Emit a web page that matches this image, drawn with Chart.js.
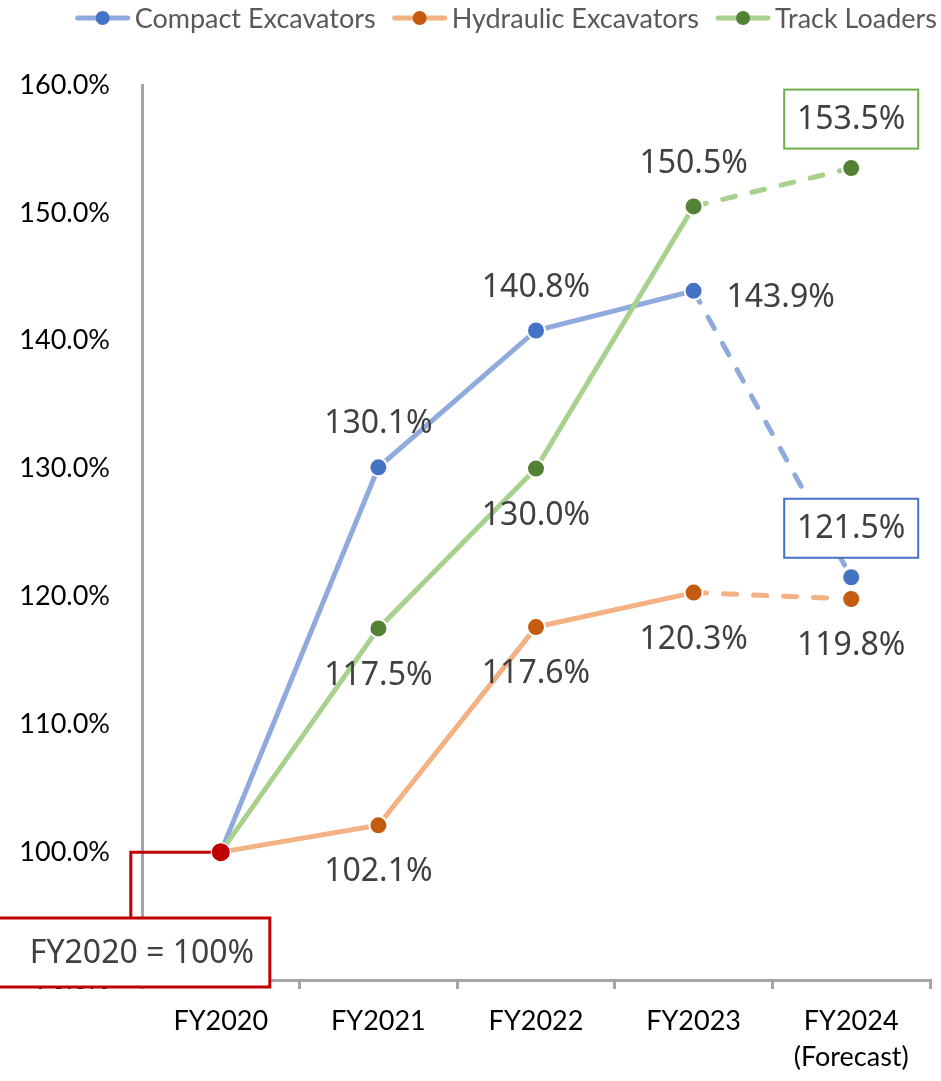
<!DOCTYPE html>
<html>
<head>
<meta charset="utf-8">
<script src="https://cdn.jsdelivr.net/npm/chart.js@4"></script>
<style>
  html, body { margin: 0; padding: 0; background: #ffffff; }
  #wrap { width: 941px; height: 1081px; position: relative; }
</style>
</head>
<body>
<div id="wrap"><canvas id="c" width="941" height="1081"></canvas></div>
<script>
// Fiscal years on the x axis (multi-line labels)
const categories = [['FY2020'], ['FY2021'], ['FY2022'], ['FY2023'], ['FY2024', '(Forecast)']];
// Demand index, FY2020 = 100%
const compactExcavators   = [100.0, 130.1, 140.8, 143.9, 121.5];
const hydraulicExcavators = [100.0, 102.1, 117.6, 120.3, 119.8];
const trackLoaders        = [100.0, 117.5, 130.0, 150.5, 153.5];
// Y axis range and step
const yMin = 90, yMax = 160, yStep = 10;
const baseNote = 'FY2020 = 100%';
const forecastFrom = 3; // segment starting at this index is dashed

const BASE_RED = '#C00000';
const LABEL_COLOR = '#404040';
const AXIS_GRAY = '#A6A6A6';
const LABEL_FONT = '32px "Noto Sans", "Open Sans", sans-serif';
const AXIS_FONT_FAMILY = 'Lato';

function pointColors(main) {
  return compactExcavators.map((_, i) => i === 0 ? BASE_RED : main);
}

function makeSeries(label, data, line, marker, order, placements, boxColor) {
  return {
    label, data, order,
    borderColor: line,
    backgroundColor: marker,
    borderWidth: 5,
    borderCapStyle: 'round',
    pointRadius: 9,
    pointHoverRadius: 9,
    pointBorderWidth: 2,
    pointBorderColor: '#ffffff',
    pointBackgroundColor: pointColors(marker),
    tension: 0,
    segment: {
      borderDash: ctx => ctx.p0DataIndex >= forecastFrom ? [13, 17] : undefined
    },
    markerColor: marker,
    labelPlacement: placements,
    labelBoxColor: boxColor
  };
}

// Value labels next to each point
const valueLabels = {
  id: 'valueLabels',
  afterDatasetsDraw(chart) {
    const ctx = chart.ctx;
    ctx.save();
    ctx.font = LABEL_FONT;
    ctx.textAlign = 'center';
    ctx.textBaseline = 'middle';
    chart.data.datasets.forEach((ds, di) => {
      const meta = chart.getDatasetMeta(di);
      meta.data.forEach((pt, i) => {
        const where = ds.labelPlacement[i];
        if (!where) return;
        const text = ds.data[i].toFixed(1) + '%';
        let x = pt.x, y = pt.y;
        if (where === 'above') y -= 44;
        else if (where === 'below') y += 46;
        else if (where === 'right') { x += 87; y += 6; }
        else if (where === 'box') {
          y -= 49;
          const w = 134, h = 59;
          ctx.fillStyle = '#ffffff';
          ctx.fillRect(x - w / 2, y - h / 2, w, h);
          ctx.strokeStyle = ds.labelBoxColor;
          ctx.lineWidth = 2;
          ctx.strokeRect(x - w / 2, y - h / 2, w, h);
        }
        ctx.fillStyle = LABEL_COLOR;
        ctx.fillText(text, x, y + 1);
      });
    });
    ctx.restore();
  }
};

// Base-year callout linked to the FY2020 point
const baseCallout = {
  id: 'baseCallout',
  afterDraw(chart) {
    const ctx = chart.ctx;
    const pt = chart.getDatasetMeta(0).data[0];
    const yScale = chart.scales.y;
    const bottomY = yScale.getPixelForValue(yMin);
    const boxTop = bottomY - 62, boxBottom = bottomY + 7;
    const boxLeft = -10, boxRight = pt.x + 49;
    const elbowX = pt.x - 90;
    ctx.save();
    ctx.strokeStyle = BASE_RED;
    ctx.lineWidth = 3;
    ctx.beginPath();
    ctx.moveTo(pt.x, pt.y);
    ctx.lineTo(elbowX, pt.y);
    ctx.lineTo(elbowX, boxTop);
    ctx.stroke();
    ctx.fillStyle = '#ffffff';
    ctx.fillRect(boxLeft, boxTop, boxRight - boxLeft, boxBottom - boxTop);
    ctx.strokeRect(boxLeft, boxTop, boxRight - boxLeft, boxBottom - boxTop);
    ctx.fillStyle = LABEL_COLOR;
    ctx.font = LABEL_FONT;
    ctx.textAlign = 'center';
    ctx.textBaseline = 'middle';
    ctx.fillText(baseNote, 142, (boxTop + boxBottom) / 2 + 1);
    // redraw the base point above the connector
    ctx.beginPath();
    ctx.arc(pt.x, pt.y, 10, 0, Math.PI * 2);
    ctx.fillStyle = '#ffffff';
    ctx.fill();
    ctx.beginPath();
    ctx.arc(pt.x, pt.y, 9, 0, Math.PI * 2);
    ctx.fillStyle = BASE_RED;
    ctx.fill();
    ctx.restore();
  }
};

// Legend row: line-with-marker swatch and series name, right aligned
const lineLegend = {
  id: 'lineLegend',
  afterDraw(chart) {
    const ctx = chart.ctx;
    ctx.save();
    ctx.font = '27px ' + AXIS_FONT_FAMILY;
    ctx.textBaseline = 'middle';
    ctx.textAlign = 'left';
    const y = 18, swatch = 56, textGap = 4, itemGap = 16;
    const items = chart.data.datasets.map(ds => ({ ds, w: ctx.measureText(ds.label).width }));
    const total = items.reduce((s, it) => s + swatch + textGap + it.w, 0) + itemGap * (items.length - 1);
    let x = 937 - total;
    items.forEach(({ ds, w }) => {
      ctx.strokeStyle = ds.borderColor;
      ctx.lineWidth = 5;
      ctx.lineCap = 'round';
      ctx.beginPath();
      ctx.moveTo(x + 3, y);
      ctx.lineTo(x + swatch - 3, y);
      ctx.stroke();
      ctx.beginPath();
      ctx.arc(x + swatch / 2, y, 7, 0, Math.PI * 2);
      ctx.fillStyle = ds.markerColor;
      ctx.fill();
      ctx.fillStyle = '#595959';
      ctx.fillText(ds.label, x + swatch + textGap, y + 1);
      x += swatch + textGap + w + itemGap;
    });
    ctx.restore();
  }
};

function drawChart() {
  new Chart(document.getElementById('c'), {
    type: 'line',
    data: {
      labels: categories,
      datasets: [
        makeSeries('Compact Excavators', compactExcavators, '#8FAADC', '#4472C4', 1,
          [null, 'above', 'above', 'right', 'box'], '#4472C4'),
        makeSeries('Hydraulic Excavators', hydraulicExcavators, '#F4B183', '#C55A11', 2,
          [null, 'below', 'below', 'below', 'below'], null),
        makeSeries('Track Loaders', trackLoaders, '#A9D18E', '#548235', 0,
          [null, 'below', 'below', 'above', 'box'], '#70AD47')
      ]
    },
    options: {
      responsive: false,
      animation: false,
      events: [],
      layout: { padding: { top: 85, right: 8, bottom: 0, left: 0 } },
      plugins: {
        legend: { display: false },
        tooltip: { enabled: false }
      },
      scales: {
        x: {
          offset: true,
          grid: {
            display: true, drawOnChartArea: false, drawTicks: true,
            tickLength: 9, color: AXIS_GRAY, lineWidth: 3, offset: true
          },
          border: { display: true, color: AXIS_GRAY, width: 3 },
          ticks: {
            color: '#000000', padding: 14, maxRotation: 0, autoSkip: false,
            font: { family: AXIS_FONT_FAMILY, size: 27, lineHeight: 1.33 }
          },
          afterFit(scale) { scale.height = 101; }
        },
        y: {
          min: yMin, max: yMax,
          grid: { display: false, drawTicks: false },
          border: { display: true, color: AXIS_GRAY, width: 3 },
          ticks: {
            stepSize: yStep, color: '#000000', padding: 32,
            font: { family: AXIS_FONT_FAMILY, size: 27 },
            callback: v => v.toFixed(1) + '%'
          },
          afterFit(scale) { scale.width = 142; }
        }
      }
    },
    plugins: [valueLabels, baseCallout, lineLegend]
  });
}

// make sure the canvas fonts are ready before the first paint
Promise.all([
  document.fonts.load('32px "Noto Sans"'),
  document.fonts.load('27px ' + AXIS_FONT_FAMILY)
]).catch(() => {}).then(drawChart);
</script>
</body>
</html>
